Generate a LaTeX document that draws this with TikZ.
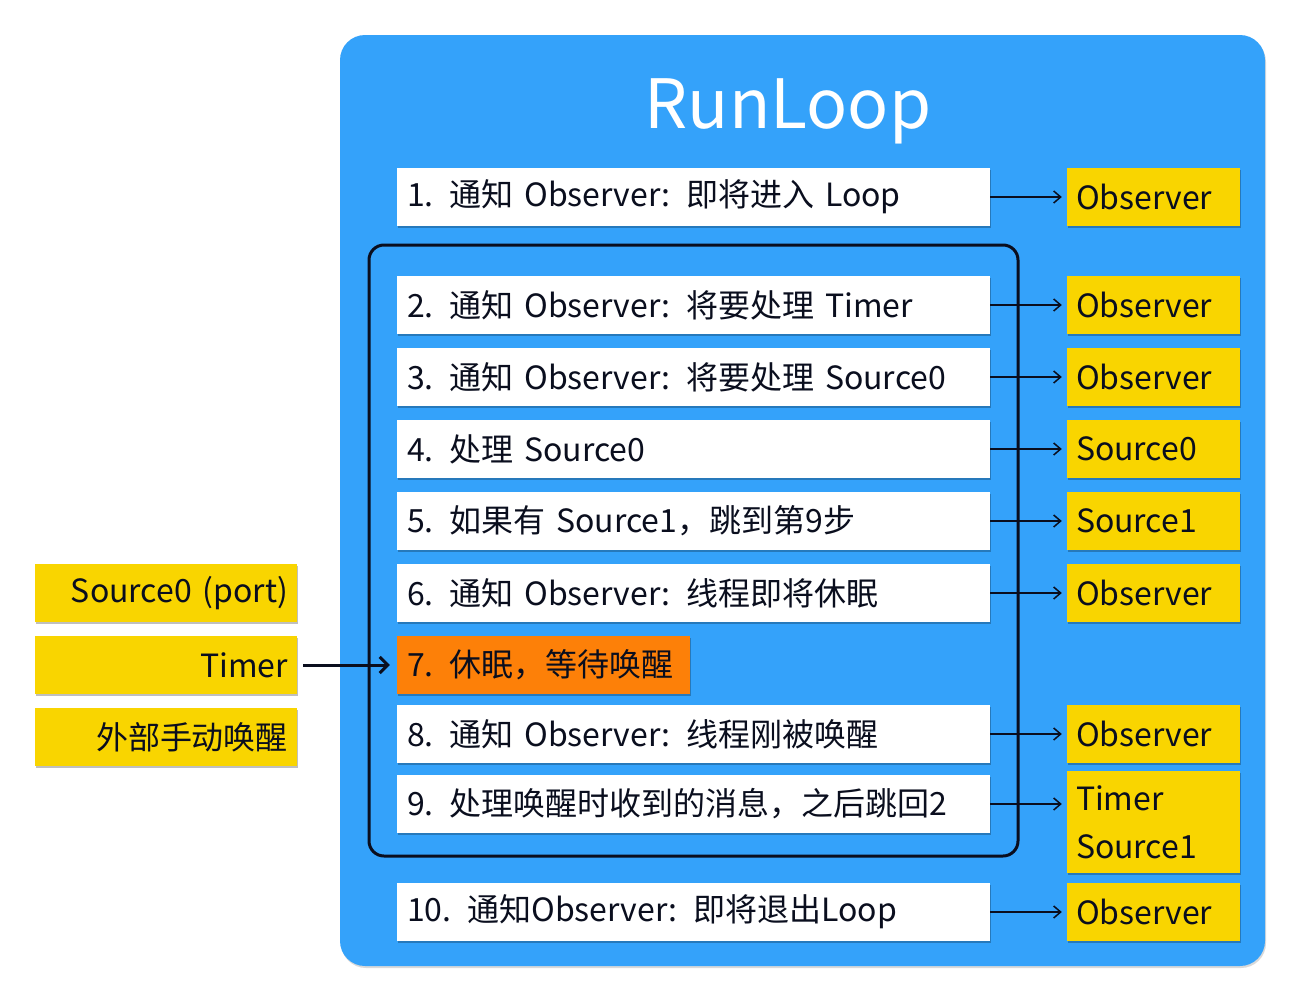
\documentclass[tikz,border=0pt]{standalone}
\usepackage{fontspec}
\setmainfont{Noto Sans CJK SC}
\usetikzlibrary{shadows,arrows.meta}
\definecolor{rlblue}{RGB}{52,162,250}
\definecolor{rlyellow}{RGB}{249,213,0}
\definecolor{rlorange}{RGB}{253,128,8}
\definecolor{rlink}{RGB}{10,14,30}
\tikzset{
  shad/.style={drop shadow={shadow xshift=1pt,shadow yshift=-2pt,opacity=0.25,fill=black}},
  txt/.style={font=\fontsize{32}{38}\selectfont, text=rlink, inner ysep=0pt, minimum height=58pt, shad},
  wbox/.style={txt, fill=white, text width=573pt, inner xsep=10pt, align=left},
  obox/.style={txt, fill=rlorange, text width=273pt, inner xsep=10pt, align=left},
  ybox/.style={txt, fill=rlyellow, text width=155pt, inner xsep=9pt, align=left},
  lbox/.style={txt, fill=rlyellow, text width=244pt, inner xsep=9pt, align=right},
  link/.style={-{Straight Barb[length=7pt,width=12pt,line width=1.5pt]}, line width=1.5pt, draw=rlink, shorten >=5pt},
  biglink/.style={-{Straight Barb[length=8pt,width=16pt,line width=3pt]}, line width=3pt, draw=rlink, shorten <=6pt, shorten >=7pt},
}
\begin{document}
\begin{tikzpicture}[x=1pt,y=-1pt]
\useasboundingbox (0,0) rectangle (1294,996);
\node[fill=rlblue, rounded corners=25pt, minimum width=925pt, minimum height=931pt, inner sep=0pt,
  drop shadow={shadow xshift=1pt,shadow yshift=-2pt,opacity=0.15,fill=black}] (runloop) at (802.5,500.5) {};
\node[font=\fontsize{68}{80}\selectfont, text=white] (title) at (788,111) {RunLoop};
\node[draw=rlink, line width=3pt, rounded corners=15pt, minimum width=649pt, minimum height=611pt, inner sep=0pt] (loop) at (693.5,550.5) {};

\node[wbox] (s1) at (693.5,197) {1. 通知 Observer: 即将进入 Loop};
\node[wbox] (s2) at (693.5,305) {2. 通知 Observer: 将要处理 Timer};
\node[wbox] (s3) at (693.5,377) {3. 通知 Observer: 将要处理 Source0};
\node[wbox] (s4) at (693.5,449) {4. 处理 Source0};
\node[wbox] (s5) at (693.5,521) {5. 如果有 Source1，跳到第9步};
\node[wbox] (s6) at (693.5,593) {6. 通知 Observer: 线程即将休眠};
\node[obox] (s7) at (543.5,665) {7. 休眠，等待唤醒};
\node[wbox] (s8) at (693.5,734) {8. 通知 Observer: 线程刚被唤醒};
\node[wbox] (s9) at (693.5,804) {9. 处理唤醒时收到的消息，之后跳回2};
\node[wbox] (s10) at (693.5,912) {10. 通知Observer: 即将退出Loop};

\node[ybox] (o1) at (1153.5,197) {Observer};
\node[ybox] (o2) at (1153.5,305) {Observer};
\node[ybox] (o3) at (1153.5,377) {Observer};
\node[ybox] (o4) at (1153.5,449) {Source0};
\node[ybox] (o5) at (1153.5,521) {Source1};
\node[ybox] (o6) at (1153.5,593) {Observer};
\node[ybox] (o8) at (1153.5,734) {Observer};
\node[ybox, minimum height=102pt, font=\fontsize{32}{48}\selectfont] (o9) at (1153.5,822) {Timer\\Source1};
\node[ybox] (o10) at (1153.5,912) {Observer};

\node[lbox] (l1) at (166,593) {Source0 (port)};
\node[lbox] (l2) at (166,665) {Timer};
\node[lbox] (l3) at (166,737) {外部手动唤醒};

\foreach \i in {1,2,3,4,5,6,8,10} {\draw[link] (s\i.east) -- (o\i.west);}
\draw[link] (s9.east) -- (s9.east -| o9.west);
\draw[biglink] (l2.east) -- (s7.west);
\end{tikzpicture}
\end{document}
